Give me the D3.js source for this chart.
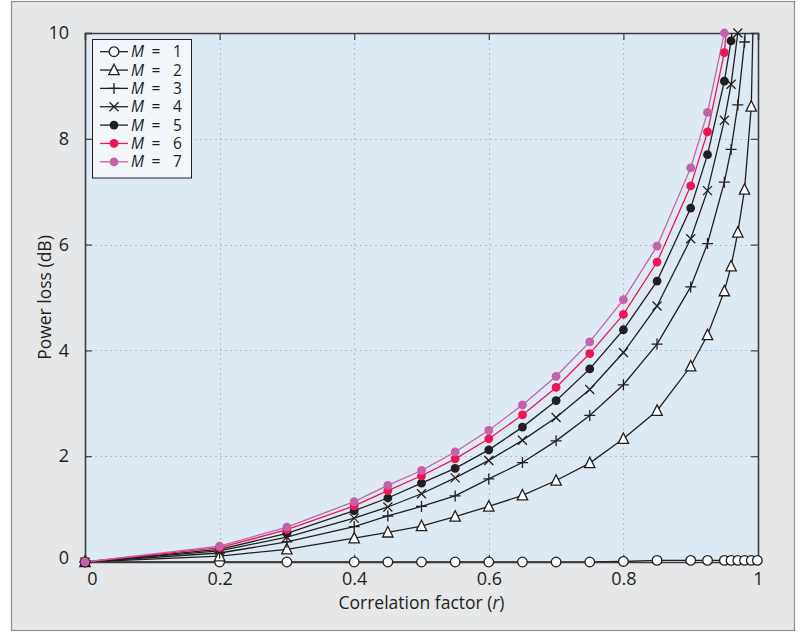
<!DOCTYPE html>
<html><head><meta charset="utf-8">
<script src="https://cdn.jsdelivr.net/npm/d3@7"></script>
<style>body{margin:0;background:#fff} svg{display:block}</style>
</head><body><svg id="c" width="808" height="633"></svg>
<script>
// ---- data ----
const rValues = [0, 0.2, 0.3, 0.4, 0.45, 0.5, 0.55, 0.6, 0.65, 0.7, 0.75, 0.8, 0.85, 0.9, 0.925, 0.95, 0.96, 0.97, 0.98, 0.99, 0.999];
const lossM1 = [0, 0, 0, 0, 0, 0, 0, 0, 0, 0, 0, 0.01, 0.03, 0.03, 0.03, 0.03, 0.03, 0.03, 0.03, 0.03, 0.03];
const lossM2 = [0, 0.11, 0.24, 0.45, 0.56, 0.68, 0.86, 1.05, 1.26, 1.54, 1.87, 2.33, 2.86, 3.70, 4.29, 5.12, 5.59, 6.23, 7.04, 8.61, 14.0];
const lossM3 = [0, 0.17, 0.38, 0.67, 0.87, 1.05, 1.25, 1.57, 1.88, 2.29, 2.77, 3.35, 4.12, 5.20, 6.02, 7.18, 7.80, 8.64, 9.83, 11.6, null];
const lossM4 = [0, 0.21, 0.47, 0.83, 1.04, 1.29, 1.59, 1.92, 2.30, 2.73, 3.26, 3.96, 4.84, 6.11, 7.02, 8.35, 9.03, 10.0, 11.3, null, null];
const lossM5 = [0, 0.24, 0.54, 0.97, 1.21, 1.49, 1.77, 2.12, 2.55, 3.05, 3.65, 4.39, 5.31, 6.69, 7.70, 9.09, 9.85, 11.0, null, null, null];
const lossM6 = [0, 0.27, 0.61, 1.06, 1.35, 1.63, 1.95, 2.33, 2.78, 3.30, 3.94, 4.68, 5.67, 7.11, 8.13, 9.63, 11.0, null, null, null, null];
const lossM7 = [0, 0.30, 0.66, 1.14, 1.45, 1.73, 2.08, 2.49, 2.97, 3.51, 4.16, 4.96, 5.97, 7.45, 8.50, 10.0, 11.6, null, null, null, null];
const seriesLabels = ["1", "2", "3", "4", "5", "6", "7"];
const xTickValues = [0, 0.2, 0.4, 0.6, 0.8, 1];
const yTickValues = [0, 2, 4, 6, 8, 10];
const xTitle = "Correlation factor (";
const xTitleVar = "r";
const yTitle = "Power loss (dB)";

const series = [
  {label: seriesLabels[0], values: lossM1, marker: "circle", color: "#231f20"},
  {label: seriesLabels[1], values: lossM2, marker: "triangle", color: "#231f20"},
  {label: seriesLabels[2], values: lossM3, marker: "plus", color: "#231f20"},
  {label: seriesLabels[3], values: lossM4, marker: "cross", color: "#231f20"},
  {label: seriesLabels[4], values: lossM5, marker: "dot", color: "#231f20"},
  {label: seriesLabels[5], values: lossM6, marker: "dot", color: "#ec1558"},
  {label: seriesLabels[6], values: lossM7, marker: "dot", color: "#c462a8"}
];

// ---- layout ----
const svg = d3.select("#c");
const FONT = "'Open Sans', 'Noto Sans', sans-serif";
const TXT = "#231f20";
const L = 85, R = 758, T = 33, B = 562;
const x = d3.scaleLinear().domain([0, 1]).range([L, R]);
const y = d3.scaleLinear().domain([0, 10]).range([B, T]);

// panel
svg.append("rect").attr("x", 11.5).attr("y", 1.5).attr("width", 783).attr("height", 629)
  .attr("fill", "#e6e7e8").attr("stroke", "#8f9193").attr("stroke-width", 1.2);
// plot bg
svg.append("rect").attr("x", L).attr("y", T).attr("width", R - L).attr("height", B - T).attr("fill", "#dde9f3");

// grid
const grid = svg.append("g").attr("stroke", "#b9bec4").attr("stroke-width", 1).attr("stroke-dasharray", "2,3");
grid.selectAll("line.vx").data(xTickValues.slice(1, -1)).join("line")
  .attr("x1", d => Math.round(x(d)) + 0.5).attr("x2", d => Math.round(x(d)) + 0.5).attr("y1", T).attr("y2", B);
grid.selectAll("line.hy").data(yTickValues.slice(1, -1)).join("line")
  .attr("y1", d => Math.round(y(d)) + 0.5).attr("y2", d => Math.round(y(d)) + 0.5).attr("x1", L).attr("x2", R);

// axes via d3 axis (inside ticks)
const TL = 7;
const axB = svg.append("g").attr("transform", `translate(0,${B})`)
  .call(d3.axisBottom(x).tickValues(xTickValues).tickSize(-TL).tickPadding(TL + 3).tickFormat(d3.format("")));
const axT = svg.append("g").attr("transform", `translate(0,${T})`)
  .call(d3.axisTop(x).tickValues(xTickValues).tickSize(-TL).tickFormat(""));
const axL = svg.append("g").attr("transform", `translate(${L},0)`)
  .call(d3.axisLeft(y).tickValues(yTickValues).tickSize(-TL).tickPadding(TL + 9).tickFormat(d3.format("")));
const axR = svg.append("g").attr("transform", `translate(${R},0)`)
  .call(d3.axisRight(y).tickValues(yTickValues).tickSize(-TL).tickFormat(""));
[axB, axT, axL, axR].forEach(a => {
  a.select(".domain").attr("stroke", "#3d3d3f").attr("stroke-width", 1.6);
  a.selectAll(".tick line").attr("stroke", "#3d3d3f").attr("stroke-width", 1.2);
  a.selectAll("text").attr("fill", TXT).attr("font-family", FONT).attr("font-size", 18);
});
// small label nudges as in original
axB.selectAll(".tick text").filter(d => d === 0).attr("dx", 7);
axL.selectAll(".tick text").filter(d => d === 0).attr("dy", "0.1em");

// axis titles
const xt = svg.append("text").attr("x", (L + R) / 2).attr("y", 609).attr("text-anchor", "middle")
  .attr("font-family", FONT).attr("font-size", 17.5).attr("fill", TXT);
xt.append("tspan").text(xTitle);
xt.append("tspan").attr("font-style", "italic").text(xTitleVar);
xt.append("tspan").text(")");
svg.append("text").attr("transform", `translate(51,${(T + B) / 2}) rotate(-90)`).attr("text-anchor", "middle")
  .attr("font-family", FONT).attr("font-size", 17.5).attr("fill", TXT).text(yTitle);

// marker drawing
function marker(g, type, cx, cy, color) {
  if (type === "circle") {
    g.append("circle").attr("cx", cx).attr("cy", cy).attr("r", 4.8).attr("fill", "#fff").attr("stroke", color).attr("stroke-width", 1.3);
  } else if (type === "triangle") {
    g.append("path").attr("d", `M${cx},${cy - 5.8}L${cx + 5.2},${cy + 4.6}L${cx - 5.2},${cy + 4.6}Z`)
      .attr("fill", "#fff").attr("stroke", color).attr("stroke-width", 1.3);
  } else if (type === "plus") {
    g.append("path").attr("d", `M${cx - 5.5},${cy}H${cx + 5.5}M${cx},${cy - 5.5}V${cy + 5.5}`)
      .attr("fill", "none").attr("stroke", color).attr("stroke-width", 1.3);
  } else if (type === "cross") {
    g.append("path").attr("d", `M${cx - 4.5},${cy - 4.5}L${cx + 4.5},${cy + 4.5}M${cx - 4.5},${cy + 4.5}L${cx + 4.5},${cy - 4.5}`)
      .attr("fill", "none").attr("stroke", color).attr("stroke-width", 1.3);
  } else {
    g.append("circle").attr("cx", cx).attr("cy", cy).attr("r", 4.4).attr("fill", color);
  }
}

// clip
svg.append("clipPath").attr("id", "pc").append("rect").attr("x", L).attr("y", T).attr("width", R - L).attr("height", B - T);

const line = d3.line().defined(d => d[1] != null).x(d => x(d[0])).y(d => y(d[1]));
const linesG = svg.append("g").attr("clip-path", "url(#pc)");
const markG = svg.append("g");
series.forEach(s => {
  const pts = rValues.map((r, i) => [r, s.values[i]]);
  linesG.append("path").datum(pts).attr("d", line).attr("fill", "none").attr("stroke", s.color).attr("stroke-width", 1.3);
  const g = markG.append("g");
  pts.filter(p => p[1] != null && p[1] <= 10.02).forEach(p => marker(g, s.marker, x(p[0]), y(p[1]), s.color));
});

// legend
const lg = svg.append("g");
lg.append("rect").attr("x", 92.5).attr("y", 39.5).attr("width", 99).attr("height", 138.5)
  .attr("fill", "#f2f6fa").attr("stroke", "#231f20").attr("stroke-width", 1);
series.forEach((s, i) => {
  const cy = 51.7 + i * 18.35;
  lg.append("line").attr("x1", 100).attr("x2", 128).attr("y1", cy).attr("y2", cy).attr("stroke", s.color).attr("stroke-width", 1.3);
  marker(lg, s.marker, 114, cy, s.color);
  const t = lg.append("text").attr("y", cy + 5.5).attr("font-family", FONT).attr("font-size", 15.5).attr("fill", TXT);
  t.append("tspan").attr("x", 131).attr("font-style", "italic").text("M");
  t.append("tspan").attr("x", 151.5).text("=");
  t.append("tspan").attr("x", 173).text(s.label);
});
</script>
</body></html>
